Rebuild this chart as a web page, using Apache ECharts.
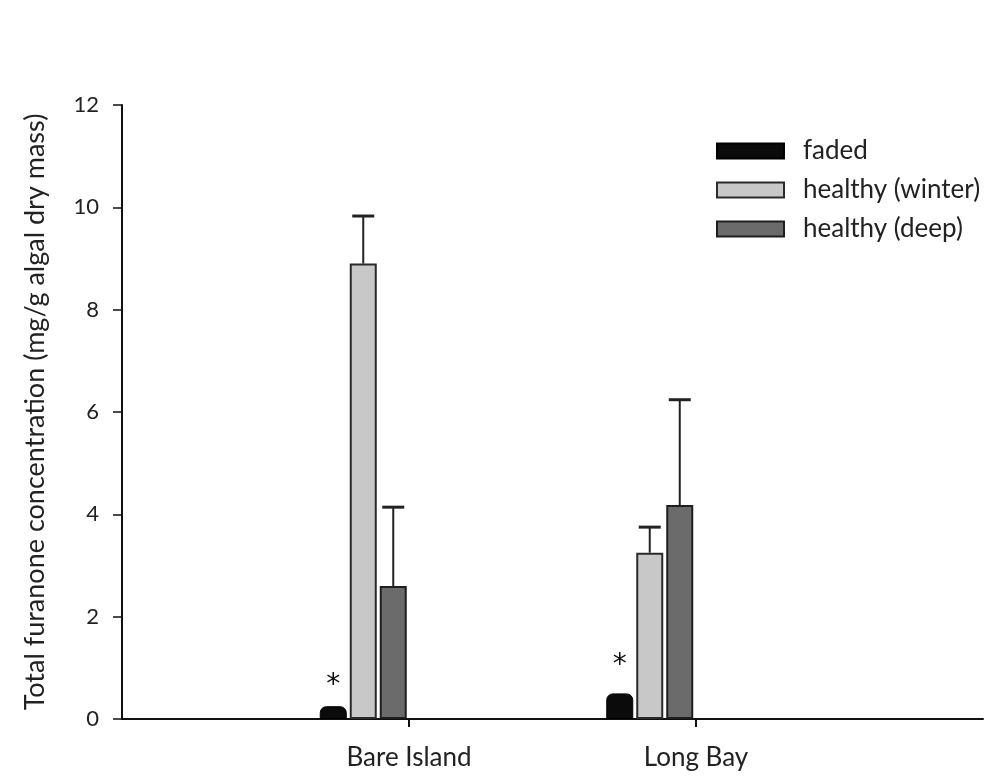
<!DOCTYPE html>
<html>
<head>
<meta charset="utf-8">
<script src="https://cdn.jsdelivr.net/npm/echarts@6/dist/echarts.min.js"></script>
<style>
  html, body { margin: 0; padding: 0; background: #ffffff; }
  #chart { width: 987px; height: 776px; }
</style>
</head>
<body>
<div id="chart"></div>
<script>
// Sites and the axis points they sit on
const sites = ['Bare Island', 'Long Bay'];
const axisCategories = ['', 'Bare Island', 'Long Bay', ''];

// Series names
const seriesNames = ['faded', 'healthy (winter)', 'healthy (deep)'];

// Mean total furanone concentration (mg/g algal dry mass) and upper error
const fadedMean = [0.25, 0.5];
const winterMean = [8.9, 3.25];
const winterErr = [0.93, 0.5];
const deepMean = [2.6, 4.18];
const deepErr = [1.54, 2.06];

// Significance marks over the faded bars
const fadedMarks = ['*', '*'];

// Y axis scale
const yMin = 0, yMax = 12, yStep = 2;

const FONT = 'Lato';
const BAR_W = 27, BAR_GAP = 3;
const markGap = [6, 14];

const chart = echarts.init(document.getElementById('chart'), null, { renderer: 'canvas' });

function errorSeries(name, means, errs, slot) {
  return {
    name: name + ' error',
    type: 'custom',
    xAxisIndex: 1,
    yAxisIndex: 1,
    z: 5,
    silent: true,
    data: sites.map((s, i) => [i, means[i], errs[i]]),
    renderItem: function (params, api) {
      const base = api.coord([api.value(0), api.value(1)]);
      const top = api.coord([api.value(0), api.value(1) + api.value(2)]);
      const x = base[0] + (slot - 1) * (BAR_W + BAR_GAP);
      return {
        type: 'group',
        children: [
          { type: 'line', shape: { x1: x, y1: base[1], x2: x, y2: top[1] },
            style: { stroke: '#222', lineWidth: 2 } },
          { type: 'line', shape: { x1: x - 11, y1: top[1], x2: x + 11, y2: top[1] },
            style: { stroke: '#222', lineWidth: 3 } }
        ]
      };
    }
  };
}

const option = {
  backgroundColor: '#ffffff',
  animation: false,
  textStyle: { fontFamily: FONT },
  grid: [
    { left: 122, right: 4, top: 105, bottom: 57 },
    { left: 220, right: 194, top: 105, bottom: 57 }
  ],
  legend: {
    orient: 'vertical',
    left: 711,
    top: 133,
    itemWidth: 67,
    itemHeight: 15,
    itemGap: 13,
    icon: 'rect',
    data: seriesNames,
    textStyle: { fontFamily: FONT, fontSize: 26, color: '#222', padding: [0, 0, 0, 14] }
  },
  xAxis: [
    {
      type: 'category',
      gridIndex: 0,
      data: axisCategories,
      boundaryGap: false,
      axisLine: { show: true, lineStyle: { color: '#111', width: 2 } },
      axisTick: {
        show: true,
        length: 8,
        interval: function (index, value) { return value !== ''; },
        lineStyle: { color: '#111', width: 2 }
      },
      axisLabel: { fontFamily: FONT, fontSize: 26, color: '#222', margin: 26, interval: 0 },
      splitLine: { show: false }
    },
    {
      type: 'category',
      gridIndex: 1,
      data: sites,
      show: false
    }
  ],
  yAxis: [
    {
      type: 'value',
      gridIndex: 0,
      min: yMin,
      max: yMax,
      interval: yStep,
      name: 'Total furanone concentration (mg/g algal dry mass)',
      nameLocation: 'middle',
      nameGap: 73,
      nameTextStyle: { fontFamily: FONT, fontSize: 27, color: '#222' },
      axisLine: { show: true, lineStyle: { color: '#111', width: 2 } },
      axisTick: { show: true, inside: false, length: 9, lineStyle: { color: '#111', width: 1.5 } },
      axisLabel: { fontFamily: FONT, fontSize: 22, color: '#222', margin: 23 },
      splitLine: { show: false }
    },
    {
      type: 'value',
      gridIndex: 1,
      min: yMin,
      max: yMax,
      interval: yStep,
      show: false,
      splitLine: { show: false }
    }
  ],
  series: [
    {
      name: seriesNames[0],
      type: 'bar',
      xAxisIndex: 1,
      yAxisIndex: 1,
      barWidth: BAR_W,
      barGap: (BAR_GAP / BAR_W * 100).toFixed(1) + '%',
      data: fadedMean.map((v, i) => ({
        value: v,
        label: {
          show: true, position: 'top', distance: markGap[i],
          formatter: fadedMarks[i],
          fontFamily: 'DejaVu Sans', fontSize: 28, color: '#111'
        }
      })),
      itemStyle: { color: '#0b0b0b', borderColor: '#000', borderWidth: 1, borderRadius: [6, 6, 0, 0] }
    },
    {
      name: seriesNames[1],
      type: 'bar',
      xAxisIndex: 1,
      yAxisIndex: 1,
      barWidth: BAR_W,
      data: winterMean,
      itemStyle: { color: '#c8c8c8', borderColor: '#2a2a2a', borderWidth: 2 }
    },
    {
      name: seriesNames[2],
      type: 'bar',
      xAxisIndex: 1,
      yAxisIndex: 1,
      barWidth: BAR_W,
      data: deepMean,
      itemStyle: { color: '#6b6b6b', borderColor: '#1e1e1e', borderWidth: 2 }
    },
    errorSeries(seriesNames[1], winterMean, winterErr, 1),
    errorSeries(seriesNames[2], deepMean, deepErr, 2)
  ]
};

chart.setOption(option);
</script>
</body>
</html>
